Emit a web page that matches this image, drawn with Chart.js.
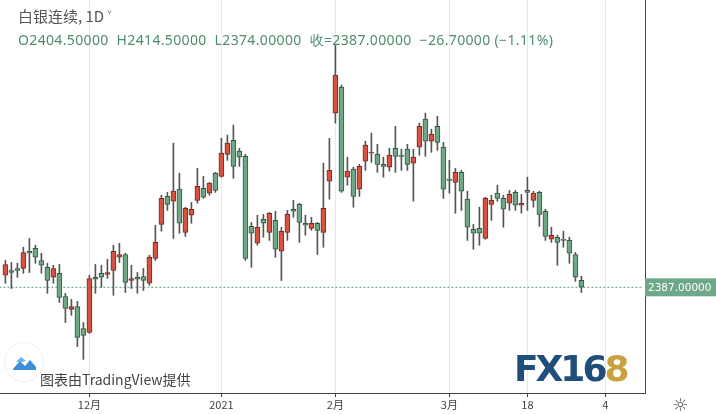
<!DOCTYPE html>
<html>
<head>
<meta charset="utf-8">
<script src="https://cdn.jsdelivr.net/npm/chart.js@4"></script>
<style>
  body { margin: 0; background: #fff; font-family: "Noto Sans CJK SC", "Noto Sans", sans-serif; }
  #wrap { position: relative; width: 716px; height: 414px; }
  .ov { position: absolute; white-space: pre; }
  #title { left: 18px; top: 5px; font-size: 15px; color: #555; }
  #ohlc { left: 18px; top: 30px; font: 14px "Noto Sans"; letter-spacing: 0.35px; color: #4f8c6c; }
  #tv { left: 40px; top: 369px; font-size: 14px; color: #444; }
  #tvlogo { left: 4px; top: 342px; width: 38px; height: 38px; border-radius: 50%; border: 1px solid #eee; background: #fff; }
  #fx { left: 514px; top: 348px; font: bold 36px "DejaVu Sans"; color: #1f4e7a; letter-spacing: -3px; }
  #fx span { color: #c9a13f; }
</style>
</head>
<body>
<div id="wrap">
  <canvas id="chart" width="716" height="414"></canvas>
  <div class="ov" id="title">白银连续, 1D ˅</div>
  <div class="ov" id="ohlc">O2404.50000  H2414.50000  L2374.00000  收=2387.00000  −26.70000 (−1.11%)</div>
  <div class="ov" id="tvlogo"><svg width="38" height="38"><path d="M8 26 L15 18 L20 23 L25 17 L31 24 L31 27 L8 27 Z" fill="#3a8fd8"/><path d="M11 19 L16 14 L21 18 L17 19 Z" fill="#6ab4ee"/></svg></div>
  <div class="ov" id="tv">图表由TradingView提供</div>
  <div class="ov" id="fx">FX16<span>8</span></div>
</div>
<script>
// daily candles
const opens = [2417,2429,2434,2434,2477,2484,2454,2437,2412,2422,2364,2332,2339,2284,2274,2412,2422,2419,2429,2462,
  2469,2404,2412,2414,2397,2459,2544,2614,2602,2632,2524,2567,2604,2634,2622,2672,2664,2719,2754,2727,
  2714,2539,2497,2557,2524,2554,2477,2524,2582,2594,2547,2534,2547,2524,2652,2822,2887,2662,2682,2632,
  2702,2722,2719,2694,2687,2734,2717,2732,2697,2737,2807,2752,2789,2737,2657,2649,2674,2607,2532,2534,
  2509,2594,2622,2609,2597,2624,2592,2629,2604,2624,2577,2507,2512,2507,2504,2469,2404.5];
const highs = [2454,2449,2447,2487,2509,2492,2472,2447,2442,2444,2372,2357,2352,2299,2417,2444,2442,2457,2492,2497,
  2472,2442,2424,2434,2467,2542,2617,2624,2747,2672,2587,2599,2684,2664,2649,2674,2759,2767,2792,2734,
  2719,2549,2567,2569,2574,2577,2537,2579,2604,2597,2567,2562,2549,2697,2759,2992,2892,2712,2687,2694,
  2752,2772,2744,2712,2734,2789,2732,2744,2732,2797,2822,2782,2814,2749,2704,2684,2679,2627,2544,2587,
  2612,2617,2642,2617,2629,2629,2619,2662,2627,2627,2582,2537,2517,2527,2512,2474,2414.5];
const lows = [2397,2384,2412,2422,2424,2447,2422,2372,2397,2349,2299,2317,2239,2207,2272,2372,2387,2409,2367,2449,
  2374,2384,2372,2379,2392,2454,2527,2579,2509,2522,2514,2547,2597,2609,2617,2624,2662,2704,2659,2689,
  2454,2437,2492,2512,2504,2462,2404,2504,2562,2499,2517,2529,2469,2487,2607,2797,2624,2642,2587,2614,
  2679,2699,2674,2662,2677,2674,2679,2679,2602,2717,2714,2724,2729,2609,2622,2572,2579,2504,2482,2492,
  2507,2554,2602,2537,2579,2579,2572,2579,2587,2539,2504,2499,2442,2487,2447,2402,2374];
const closes = [2444,2424,2429,2474,2472,2462,2442,2404,2434,2362,2334,2339,2262,2267,2409,2407,2412,2424,2477,2469,
  2399,2409,2407,2404,2462,2499,2609,2594,2627,2547,2584,2582,2639,2612,2647,2629,2722,2747,2689,2712,
  2459,2522,2537,2547,2572,2482,2527,2569,2577,2549,2542,2547,2529,2584,2679,2917,2627,2677,2614,2689,
  2742,2724,2694,2689,2717,2714,2714,2694,2712,2789,2752,2769,2749,2632,2654,2674,2627,2537,2522,2522,
  2609,2604,2609,2582,2619,2592,2597,2624,2622,2569,2514,2517,2499,2504,2472,2412,2387];

const tickIdx = [14, 36, 55, 74, 87, 100];
const tickText = ['12月', '2021', '2月', '3月', '18', '4'];
const lastPrice = 2387;

const UP = '#d65241', UP_EDGE = '#7a2a22';
const DOWN = '#6fa886', DOWN_EDGE = '#2f5b40';

const isUp = closes.map((c, i) => c >= opens[i]);
const wicks = highs.map((h, i) => ({ x: i, y: [lows[i], h] }));
const bodies = opens.map((o, i) => ({ x: i, y: [Math.min(o, closes[i]), Math.max(o, closes[i]) + (o === closes[i] ? 1 : 0)] }));

// price tag on the right axis + settings icon
const priceTag = {
  id: 'priceTag',
  afterDraw(chart) {
    const c = chart.ctx;
    const y = chart.scales.y.getPixelForValue(lastPrice);
    const x0 = chart.chartArea.right;
    c.save();
    c.fillStyle = '#6da888';
    c.fillRect(x0, y - 9, 716 - x0, 18);
    c.fillStyle = '#fff';
    c.font = '10.5px "DejaVu Sans"';
    c.textBaseline = 'middle';
    c.fillText('2387.00000', x0 + 3, y + 1);
    c.fillStyle = '#555';
    c.font = '18px "DejaVu Sans"';
    c.fillText('☼', 672, 406);
    c.restore();
  }
};

new Chart(document.getElementById('chart'), {
  type: 'bar',
  data: {
    datasets: [
      { type: 'line', data: Array.from({ length: 108 }, (_, i) => ({ x: i - 1, y: lastPrice })),
        borderColor: '#5d9c7c', borderWidth: 1, borderDash: [2, 2], pointRadius: 0, order: 3 },
      { data: wicks, backgroundColor: '#555', barThickness: 1, order: 2, grouped: false },
      { data: bodies, backgroundColor: isUp.map(u => u ? UP : DOWN),
        borderColor: isUp.map(u => u ? UP_EDGE : DOWN_EDGE), borderWidth: 1, borderSkipped: false,
        barThickness: 5, order: 1, grouped: false }
    ]
  },
  options: {
    responsive: false,
    animation: false,
    layout: { padding: 0 },
    plugins: { legend: { display: false }, tooltip: { enabled: false } },
    scales: {
      x: {
        type: 'linear', min: -0.9, max: 106.6, offset: false,
        afterBuildTicks: s => { s.ticks = tickIdx.map(v => ({ value: v })); },
        afterFit: s => { s.height = 21; },
        ticks: { autoSkip: false, callback: v => tickText[tickIdx.indexOf(v)], color: '#444', font: { size: 11, family: 'Noto Sans CJK SC' }, maxRotation: 0, padding: 1 },
        grid: { offset: false, color: '#e3eaf0', tickColor: '#444', tickLength: 4 },
        border: { color: '#444' }
      },
      y: {
        position: 'right', min: 2123, max: 3104.5,
        afterFit: s => { s.width = 71; },
        ticks: { display: false },
        grid: { display: false },
        border: { color: '#444' }
      }
    }
  },
  plugins: [priceTag]
});
</script>
</body>
</html>
